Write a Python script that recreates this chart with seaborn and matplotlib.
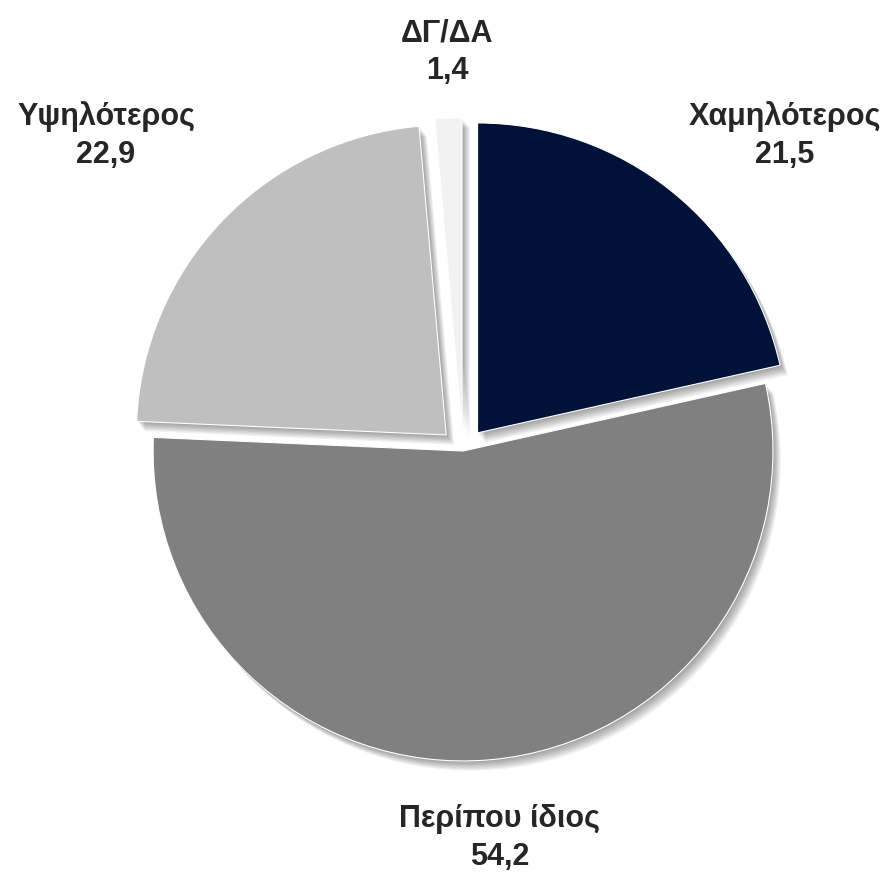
import matplotlib
matplotlib.use("Agg")
import matplotlib.pyplot as plt
import matplotlib.patheffects as pe
import seaborn as sns

# Data
categories = ["Χαμηλότερος", "Περίπου ίδιος", "Υψηλότερος", "ΔΓ/ΔΑ"]
values = [21.5, 54.2, 22.9, 1.4]
value_labels = ["21,5", "54,2", "22,9", "1,4"]
colors = ["#001238", "#808080", "#bfbfbf", "#f2f2f2"]

sns.set_theme(style="white")
plt.rcParams['font.family'] = ['Liberation Sans', 'DejaVu Sans']

fig = plt.figure(figsize=(8.87, 8.76), dpi=100)
ax = fig.add_axes([0, 0, 1, 1])

# soft drop shadow made of a few stacked offsets
shadow = [pe.SimplePatchShadow(offset=(o * 0.8, -o), shadow_rgbFace="black", alpha=0.06)
          for o in (1, 2, 3, 4, 5, 6, 7)] + [pe.Normal()]

wedges, _ = ax.pie(values, colors=sns.color_palette(colors), startangle=90, counterclock=False,
                   explode=[0.075, 0, 0.075, 0.075], radius=1,
                   wedgeprops=dict(edgecolor="white", linewidth=0.8))
for w in wedges:
    w.set_path_effects(shadow)

ax.set_aspect("equal")
ax.set_xlim(-1.494, 1.368)
ax.set_ylim(-1.371, 1.455)
ax.axis("off")

# label positions (layout only)
label_pos = [(1.039, 1.019), (0.119, -1.250), (-1.152, 1.019), (-0.052, 1.287)]
for cat, lab, (x, y) in zip(categories, value_labels, label_pos):
    ax.text(x, y, f"{cat}\n{lab}", ha="center", va="center", fontsize=22,
            fontweight="bold", color="#262626", linespacing=1.35)

fig.savefig("out.png", dpi=100)
